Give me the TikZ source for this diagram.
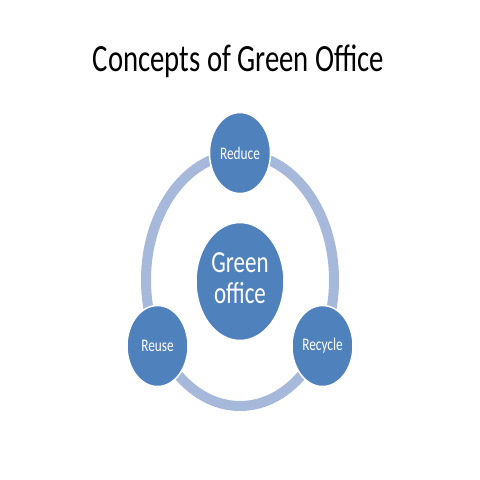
\documentclass[tikz,border=0pt]{standalone}
\usepackage{fontspec}
\setmainfont{Carlito}
\usetikzlibrary{shapes.geometric}
\definecolor{nodeblue}{RGB}{79,129,189}
\definecolor{ringblue}{RGB}{167,185,219}
\tikzset{
  small/.style={ellipse, fill=nodeblue, draw=white, line width=1.5pt, inner sep=0pt,
    minimum width=61pt, minimum height=81pt, text=white,
    font=\fontsize{13.3}{15}\selectfont},
  big/.style={ellipse, fill=nodeblue, draw=white, line width=1.5pt, inner sep=0pt,
    minimum width=88pt, minimum height=118pt, text=white,
    font=\fontsize{23}{24}\selectfont},
  ring/.style={draw=ringblue, line width=10pt}
}
\begin{document}
\begin{tikzpicture}[x=1pt,y=-1pt]
\useasboundingbox (0,0) rectangle (480,480);
\fill[white] (0,0) rectangle (480,480);
\node[anchor=base, inner sep=0pt, font=\fontsize{28.75}{30}\selectfont] (title) at (238.5,71.7)
  {\scalebox{1}[1.34]{Concepts of Green Office}};
\draw[ring] (240,280) ellipse [x radius=94pt, y radius=126pt];
\node[big] (center) at (240,281.5) {\scalebox{1}[1.33]{\begin{tabular}{@{}c@{}}Green\\[-0.5pt]office\end{tabular}}};
\node[small] (reduce) at (240,153) {\scalebox{1}[1.33]{Reduce}};
\node[small] (reuse) at (157.5,346) {\scalebox{1}[1.33]{Reuse}};
\node[small] (recycle) at (322.5,346) {\scalebox{1}[1.33]{Recycle}};
\end{tikzpicture}
\end{document}
